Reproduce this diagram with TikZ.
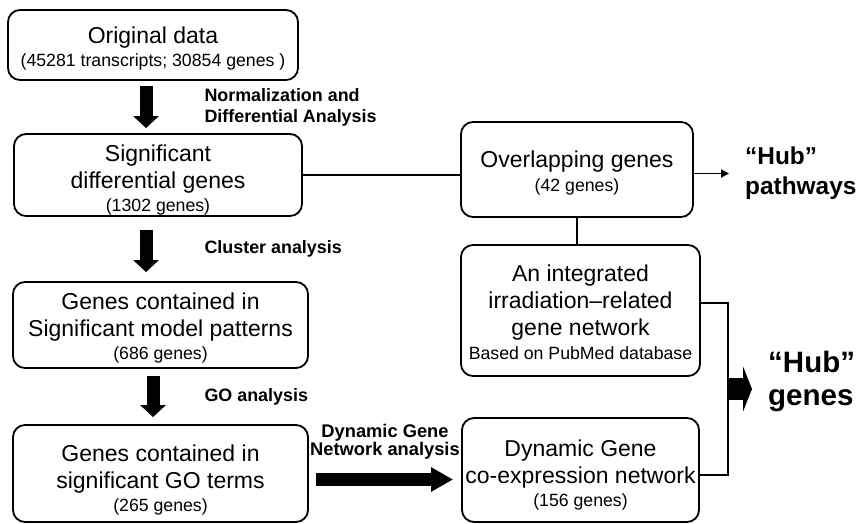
\documentclass[tikz,border=0pt]{standalone}
\usepackage{fontspec}
\setmainfont{Liberation Sans}
\usetikzlibrary{arrows.meta}
\newcommand{\smalltxt}{\fontsize{17.7}{21}\selectfont}
\newcommand{\toppad}[1]{\rule{0pt}{#1}}

\begin{document}
\begin{tikzpicture}[x=1pt,y=-1pt]

\tikzset{box/.style = {draw, rounded corners=12pt, line width=1.8pt, align=center, inner sep=0pt, font=\fontsize{23}{27}\selectfont}}
\tikzset{edge/.style = {line width=1.8pt}}
\tikzset{fat/.style = {line width=13pt, -{Triangle[length=12pt,width=25pt]}}}
\tikzset{lbl/.style = {anchor=west, inner sep=0pt, align=left, font=\bfseries\fontsize{17.9}{21}\selectfont}}
\tikzset{hub/.style = {anchor=west, inner sep=0pt, align=left}}
\useasboundingbox (0,0) rectangle (857,524);
%boxes
\node[box, minimum width=290pt, minimum height=70pt] (orig) at (153,45) {\toppad{24pt}Original data\\[-4pt]\smalltxt(45281 transcripts; 30854 genes )};
\node[box, minimum width=288pt, minimum height=82pt] (sig) at (158,175) {\toppad{27pt}Significant\\differential genes\\[-4pt]\smalltxt(1302 genes)};
\node[box, minimum width=295pt, minimum height=86pt] (model) at (160.5,325) {\toppad{22pt}Genes contained in\\Significant model patterns\\[-4pt]\smalltxt(686 genes)};
\node[box, minimum width=295pt, minimum height=97pt] (goterm) at (160.5,473.5) {\toppad{30pt}Genes contained in\\significant GO terms\\[-4pt]\smalltxt(265 genes)};
\node[box, minimum width=232pt, minimum height=95pt] (over) at (577,169.5) {\toppad{23pt}Overlapping genes\\[-3pt]\smalltxt(42 genes)};
\node[box, minimum width=239pt, minimum height=131pt] (integ) at (580.5,310.5) {\toppad{21pt}An integrated\\irradiation–related\\gene network\\[-3pt]\smalltxt Based on PubMed database};
\node[box, minimum width=237pt, minimum height=104pt] (dyn) at (580.5,470) {\toppad{27pt}Dynamic Gene\\co-expression network\\[-4pt]\smalltxt(156 genes)};
\node[hub, font=\bfseries\fontsize{24.4}{30}\selectfont] (hubpath) at (745,173) {“Hub”\\pathways};
\node[hub, font=\bfseries\fontsize{29.5}{33}\selectfont] (hubgene) at (768,381.5) {“Hub”\\genes};
\coordinate (merge) at (728,389);
%arrows
\draw[fat, shorten <=5pt, shorten >=5pt] ([xshift=-7pt]orig.south) -- ([xshift=-7pt]orig.south |- sig.north) node[lbl, midway, xshift=52pt] {Normalization and\\Differential Analysis};
\draw[fat, shorten <=13pt, shorten >=9pt] ([xshift=-12pt]sig.south) -- ([xshift=-12pt]sig.south |- model.north) node[lbl, midway, xshift=52pt] {Cluster analysis};
\draw[fat, shorten <=7pt, shorten >=7pt] ([xshift=-7.5pt]model.south) -- ([xshift=-7.5pt]model.south |- goterm.north) node[lbl, midway, xshift=45pt] {GO analysis};
\draw[line width=13pt, -{Triangle[length=22pt,width=23pt]}, shorten <=7pt, shorten >=8pt] ([yshift=-6pt]goterm.east) -- ([yshift=-6pt]goterm.east -| dyn.west)
  node[midway, yshift=38pt, inner sep=0pt, align=center, font=\bfseries\fontsize{18.3}{17}\selectfont] {Dynamic Gene\\Network analysis};
%lines
\draw[edge] (sig.east) -- (sig.east -| over.west);
\draw[edge, -{Triangle[length=8pt,width=8pt]}, shorten >=16pt] ([yshift=-4pt]over.east) -- ([yshift=-4pt]over.east -| hubpath.west);
\draw[edge] (over.south) -- (over.south |- integ.north);
\draw[edge] ([yshift=7.5pt]integ.east) -| (merge) |- ([yshift=-5pt]dyn.east);
\draw[line width=22pt, -{Triangle[length=9pt,width=45pt]}, shorten >=16pt] (merge) -- (merge -| hubgene.west);

\end{tikzpicture}
\end{document}
